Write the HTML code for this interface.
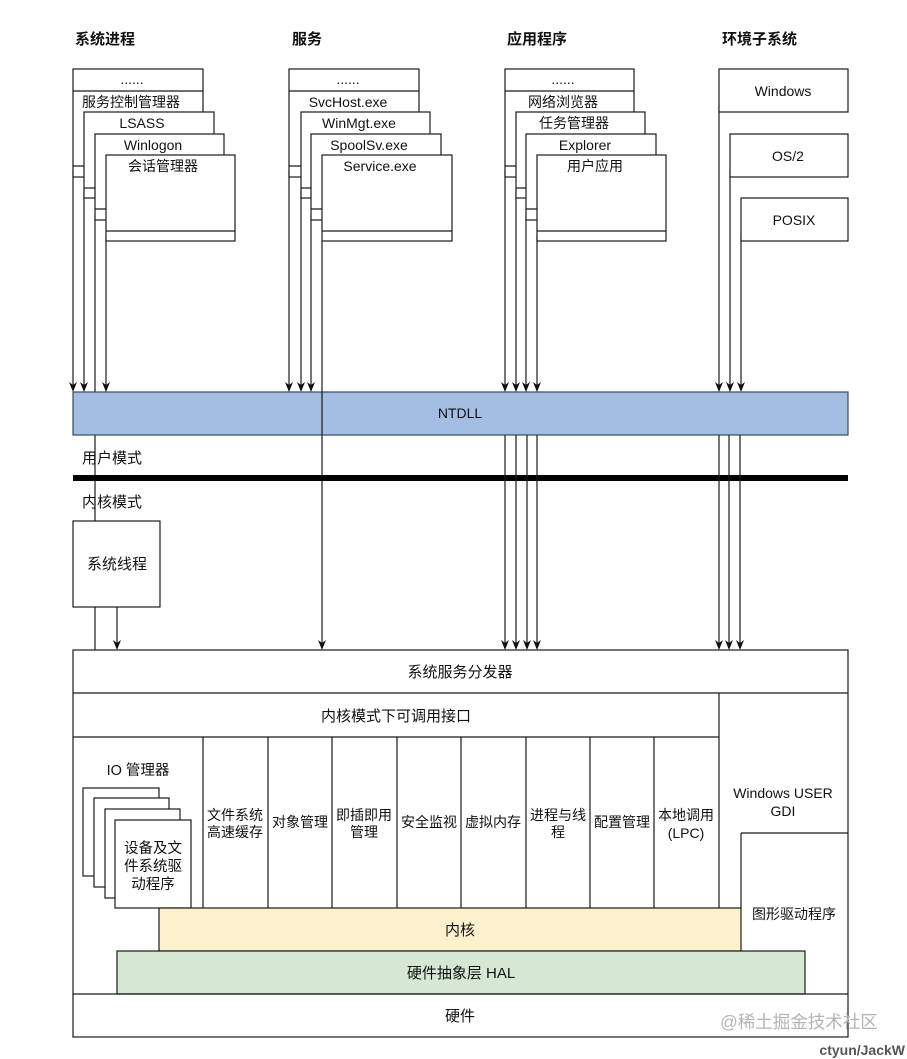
<!DOCTYPE html>
<html><head><meta charset="utf-8"><style>
html,body{margin:0;padding:0;background:#fff;}
svg{display:block;}
text{font-family:"Liberation Sans","Noto Sans CJK SC",sans-serif;fill:#111;}
.t{font-size:14px;text-anchor:middle;}
.b{font-size:15px;font-weight:bold;}
.m{font-size:15px;text-anchor:middle;}
.c{font-size:14px;text-anchor:middle;}
</style></head><body>
<svg width="907" height="1059" viewBox="0 0 907 1059" xmlns="http://www.w3.org/2000/svg">
<g stroke="#1a1a1a" stroke-width="1.2" fill="none">
<line x1="73" y1="170" x2="73" y2="386"/>
<line x1="84" y1="190" x2="84" y2="386"/>
<line x1="106" y1="235" x2="106" y2="386"/>
<line x1="289" y1="170" x2="289" y2="386"/>
<line x1="301" y1="190" x2="301" y2="386"/>
<line x1="311" y1="215" x2="311" y2="386"/>
<line x1="505" y1="170" x2="505" y2="386"/>
<line x1="516" y1="190" x2="516" y2="386"/>
<line x1="526" y1="215" x2="526" y2="386"/>
<line x1="537" y1="235" x2="537" y2="386"/>
<line x1="719" y1="105" x2="719" y2="386"/>
<line x1="730" y1="170" x2="730" y2="386"/>
<line x1="741" y1="235" x2="741" y2="386"/>
<line x1="95" y1="215" x2="95" y2="650"/>
</g>
<g fill="#111">
<polygon points="73,392 69,382 73,385 77,382"/>
<polygon points="84,392 80,382 84,385 88,382"/>
<polygon points="106,392 102,382 106,385 110,382"/>
<polygon points="289,392 285,382 289,385 293,382"/>
<polygon points="301,392 297,382 301,385 305,382"/>
<polygon points="311,392 307,382 311,385 315,382"/>
<polygon points="505,392 501,382 505,385 509,382"/>
<polygon points="516,392 512,382 516,385 520,382"/>
<polygon points="526,392 522,382 526,385 530,382"/>
<polygon points="537,392 533,382 537,385 541,382"/>
<polygon points="719,392 715,382 719,385 723,382"/>
<polygon points="730,392 726,382 730,385 734,382"/>
<polygon points="741,392 737,382 741,385 745,382"/>
</g>
<g stroke="#1a1a1a" stroke-width="1.2" fill="#fff">
<rect x="73" y="69" width="130" height="108"/>
<line x1="73" y1="91" x2="203" y2="91"/><line x1="73" y1="166" x2="203" y2="166"/>
<rect x="84" y="112" width="130" height="86"/>
<line x1="84" y1="188" x2="214" y2="188"/>
<rect x="95" y="134" width="129" height="86"/>
<line x1="95" y1="209" x2="224" y2="209"/>
<rect x="106" y="155" width="129" height="86"/>
<line x1="106" y1="231" x2="235" y2="231"/>
<rect x="289" y="69" width="130" height="108"/>
<line x1="289" y1="91" x2="419" y2="91"/><line x1="289" y1="166" x2="419" y2="166"/>
<rect x="301" y="112" width="129" height="86"/>
<line x1="301" y1="188" x2="430" y2="188"/>
<rect x="311" y="134" width="130" height="86"/>
<line x1="311" y1="209" x2="441" y2="209"/>
<rect x="322" y="155" width="130" height="86"/>
<line x1="322" y1="231" x2="452" y2="231"/>
<rect x="505" y="69" width="129" height="108"/>
<line x1="505" y1="91" x2="634" y2="91"/><line x1="505" y1="166" x2="634" y2="166"/>
<rect x="516" y="112" width="129" height="86"/>
<line x1="516" y1="188" x2="645" y2="188"/>
<rect x="526" y="134" width="130" height="86"/>
<line x1="526" y1="209" x2="656" y2="209"/>
<rect x="537" y="155" width="129" height="86"/>
<line x1="537" y1="231" x2="666" y2="231"/>
<rect x="719" y="69" width="129" height="43"/>
<rect x="730" y="134" width="118" height="43"/>
<rect x="741" y="198" width="107" height="43"/>
</g>
<rect x="73" y="392" width="775" height="43" fill="#a3bde3" stroke="#3a4a5a" stroke-width="1.2"/>
<text x="460" y="418" class="t">NTDLL</text>
<line x1="322" y1="241" x2="322" y2="644" stroke="#1a1a1a" stroke-width="1.2"/>
<rect x="73" y="475" width="775" height="6" fill="#000"/>
<g stroke="#1a1a1a" stroke-width="1.2">
<line x1="505" y1="435" x2="505" y2="644"/>
<line x1="516" y1="435" x2="516" y2="644"/>
<line x1="527" y1="435" x2="527" y2="644"/>
<line x1="537" y1="435" x2="537" y2="644"/>
<line x1="719" y1="435" x2="719" y2="644"/>
<line x1="729" y1="435" x2="729" y2="644"/>
<line x1="740" y1="435" x2="740" y2="644"/>
<line x1="117" y1="607" x2="117" y2="644"/>
</g>
<g fill="#111">
<polygon points="322,650 318,640 322,643 326,640"/>
<polygon points="505,650 501,640 505,643 509,640"/>
<polygon points="516,650 512,640 516,643 520,640"/>
<polygon points="527,650 523,640 527,643 531,640"/>
<polygon points="537,650 533,640 537,643 541,640"/>
<polygon points="719,650 715,640 719,643 723,640"/>
<polygon points="729,650 725,640 729,643 733,640"/>
<polygon points="740,650 736,640 740,643 744,640"/>
<polygon points="117,650 113,640 117,643 121,640"/>
</g>
<rect x="73" y="521" width="87" height="86" fill="#fff" stroke="#1a1a1a" stroke-width="1.2"/>
<text x="117" y="569" class="m">系统线程</text>
<text x="82" y="463" style="font-size:15px">用户模式</text>
<text x="82" y="507" style="font-size:15px">内核模式</text>
<g stroke="#1a1a1a" stroke-width="1.2" fill="none">
<rect x="73" y="650" width="775" height="387" fill="#fff"/>
<line x1="73" y1="693" x2="848" y2="693"/>
<line x1="73" y1="737" x2="719" y2="737"/>
<line x1="719" y1="693" x2="719" y2="908"/>
<line x1="203" y1="737" x2="203" y2="908"/>
<line x1="268" y1="737" x2="268" y2="908"/>
<line x1="332" y1="737" x2="332" y2="908"/>
<line x1="397" y1="737" x2="397" y2="908"/>
<line x1="461" y1="737" x2="461" y2="908"/>
<line x1="526" y1="737" x2="526" y2="908"/>
<line x1="590" y1="737" x2="590" y2="908"/>
<line x1="654" y1="737" x2="654" y2="908"/>
<line x1="741" y1="833" x2="848" y2="833"/>
<line x1="741" y1="833" x2="741" y2="908"/>
<rect x="83" y="788" width="76" height="88" fill="#fff"/>
<rect x="94" y="798" width="75" height="89" fill="#fff"/>
<rect x="105" y="809" width="75" height="89" fill="#fff"/>
<rect x="115" y="820" width="76" height="88" fill="#fff"/>
</g>
<rect x="159" y="908" width="582" height="43" fill="#fdf0cc" stroke="#1a1a1a" stroke-width="1.2"/>
<rect x="117" y="951" width="688" height="43" fill="#d5e8d4" stroke="#1a1a1a" stroke-width="1.2"/>
<line x1="73" y1="994" x2="848" y2="994" stroke="#1a1a1a" stroke-width="1.2"/>
<text x="75" y="44" class="b">系统进程</text>
<text x="292" y="44" class="b">服务</text>
<text x="507" y="44" class="b">应用程序</text>
<text x="722" y="44" class="b">环境子系统</text>
<text x="132" y="84" class="t">......</text>
<text x="131" y="107" class="t">服务控制管理器</text>
<text x="142" y="128" class="t">LSASS</text>
<text x="153" y="150" class="t">Winlogon</text>
<text x="163" y="171" class="t">会话管理器</text>
<text x="348" y="84" class="t">......</text>
<text x="348" y="107" class="t">SvcHost.exe</text>
<text x="359" y="128" class="t">WinMgt.exe</text>
<text x="369" y="150" class="t">SpoolSv.exe</text>
<text x="380" y="171" class="t">Service.exe</text>
<text x="563" y="84" class="t">......</text>
<text x="563" y="107" class="t">网络浏览器</text>
<text x="574" y="128" class="t">任务管理器</text>
<text x="585" y="150" class="t">Explorer</text>
<text x="595" y="171" class="t">用户应用</text>
<text x="783" y="96" class="t">Windows</text>
<text x="788" y="161" class="t">OS/2</text>
<text x="794" y="225" class="t">POSIX</text>
<text x="460" y="677" class="m">系统服务分发器</text>
<text x="396" y="721" class="m">内核模式下可调用接口</text>
<text x="138" y="775" class="c" style="font-size:14.5px">IO 管理器</text>
<text x="153" y="853" class="c" style="font-size:14.5px">设备及文</text>
<text x="153" y="871" class="c" style="font-size:14.5px">件系统驱</text>
<text x="153" y="889" class="c" style="font-size:14.5px">动程序</text>
<text x="235" y="820" class="c">文件系统</text>
<text x="235" y="837" class="c">高速缓存</text>
<text x="300" y="827" class="c">对象管理</text>
<text x="364" y="820" class="c">即插即用</text>
<text x="364" y="837" class="c">管理</text>
<text x="429" y="827" class="c">安全监视</text>
<text x="493" y="827" class="c">虚拟内存</text>
<text x="558" y="820" class="c">进程与线</text>
<text x="558" y="837" class="c">程</text>
<text x="622" y="827" class="c">配置管理</text>
<text x="686" y="820" class="c">本地调用</text>
<text x="686" y="838" class="c">(LPC)</text>
<text x="783" y="798" class="c">Windows USER</text>
<text x="783" y="816" class="c">GDI</text>
<text x="794" y="919" class="c">图形驱动程序</text>
<text x="460" y="935" class="m">内核</text>
<text x="461" y="978" class="m">硬件抽象层 HAL</text>
<text x="460" y="1021" class="m">硬件</text>
<text x="720" y="1028" style="font-size:17.5px;fill:#b4b4b4;">@稀土掘金技术社区</text>
<text x="905" y="1055" style="font-size:14px;font-weight:bold;fill:#555;text-anchor:end;">ctyun/JackW</text>
</svg>
</body></html>
